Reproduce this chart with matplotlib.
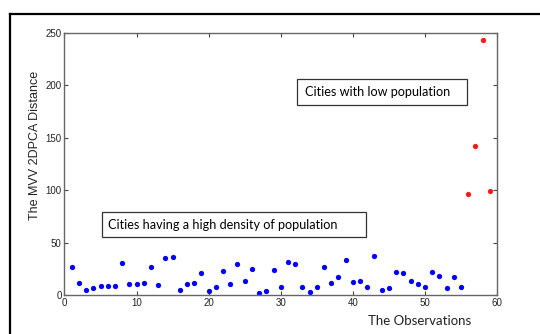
import matplotlib
matplotlib.use("Agg")
import matplotlib.pyplot as plt
from matplotlib.lines import Line2D
from matplotlib.patches import Rectangle
import numpy as np

# observations 1..55: densely populated cities
obs_high = np.arange(1, 56)
dist_high = [27, 11.5, 4.5, 6.7, 8.6, 8.6, 8.6, 31, 10.2, 10.8,
             11.5, 27, 9.2, 35.7, 36.3, 4.8, 10.2, 11.8, 20.7, 3.8,
             7.6, 23.2, 10.8, 30, 13.4, 24.8, 2.2, 3.8, 24.2, 8,
             31.6, 29.3, 8, 2.9, 8, 27, 11.5, 17.2, 33, 12.4,
             13.7, 8, 37.5, 4.5, 7, 22.3, 20.7, 13, 10.2, 8,
             22.3, 17.8, 7, 17.2, 8]

# observations 56..59: low population cities
obs_low = [56, 57, 58, 59]
dist_low = [96, 142.5, 243, 99.2]

xticks = [0, 10, 20, 30, 40, 50, 60]
yticks = [0, 50, 100, 150, 200, 250]

fig = plt.figure(figsize=(5.4, 3.34), dpi=100)
ax = fig.add_axes([0.1194, 0.1168, 0.801, 0.7844])

ax.plot(obs_high, dist_high, 'o', color='#0000ff', markersize=3.8, markeredgewidth=0)
ax.plot(obs_low, dist_low, 'o', color='#ff1a1a', markersize=3.8, markeredgewidth=0)

ax.set_xlim(0, 60)
ax.set_ylim(0, 250)
ax.set_xticks(xticks)
ax.set_yticks(yticks)
ax.tick_params(direction='in', top=True, right=True, length=3, width=0.8,
               color='#444444', labelsize=7, labelcolor='#222222', pad=2)
for lab in ax.get_xticklabels() + ax.get_yticklabels():
    lab.set_family('Liberation Sans')
for sp in ax.spines.values():
    sp.set_color('#666666')
    sp.set_linewidth(1.0)

ax.set_ylabel('The MVV 2DPCA Distance', family='Liberation Sans', fontsize=9,
              color='#222222')
ax.yaxis.set_label_coords(-0.054, 0.569)
ax.set_xlabel('The Observations', family='Lato', fontsize=9.5, color='#222222')
ax.xaxis.set_label_coords(0.822, -0.075)

# annotation boxes
ax.add_patch(Rectangle((32.3, 181.6), 23.5, 24.8, facecolor='white',
                       edgecolor='#333333', linewidth=0.9, zorder=3))
ax.text(33.3, 194, 'Cities with low population', family='Lato', fontsize=9.1,
        va='center', ha='left', zorder=4)
ax.add_patch(Rectangle((5.2, 55), 36.6, 24.5, facecolor='white',
                       edgecolor='#333333', linewidth=0.9, zorder=3))
ax.text(6.1, 67, 'Cities having a high density of population', family='Lato',
        fontsize=9.1, va='center', ha='left', zorder=4)

# outer frame lines (top and left)
fig.add_artist(Line2D([10 / 540, 1.0], [1 - 14 / 334, 1 - 14 / 334],
                      transform=fig.transFigure, color='black', linewidth=1.6))
fig.add_artist(Line2D([10 / 540, 10 / 540], [0.0, 1 - 14 / 334],
                      transform=fig.transFigure, color='black', linewidth=1.6))

fig.savefig('out.png', dpi=100)
